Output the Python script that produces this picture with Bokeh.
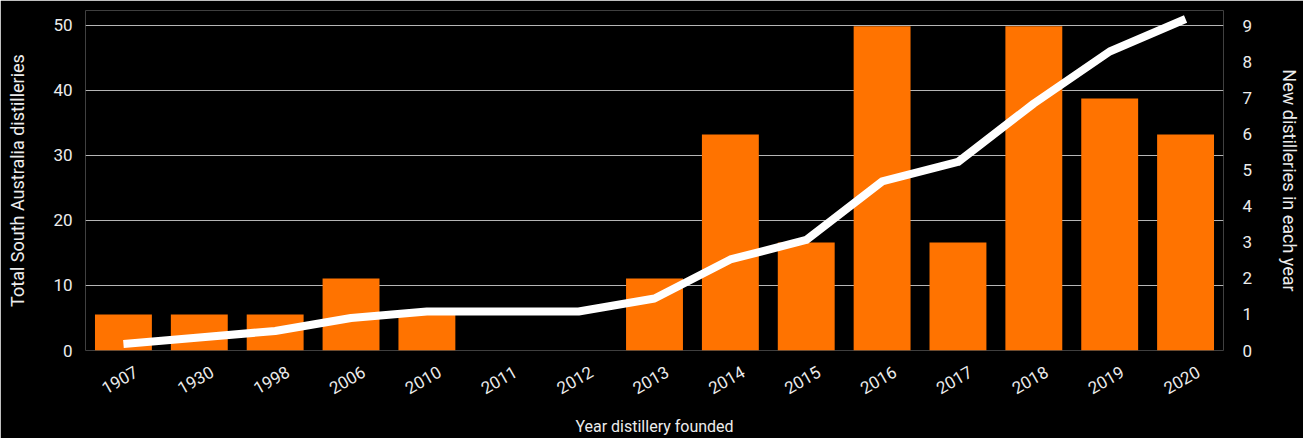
from bokeh.plotting import figure
from bokeh.models import Range1d, LinearAxis, FixedTicker, ColumnDataSource
from bokeh.embed import file_html
from bokeh.resources import INLINE

years = ["1907", "1930", "1998", "2006", "2010", "2011", "2012", "2013",
         "2014", "2015", "2016", "2017", "2018", "2019", "2020"]
new_per_year = [1, 1, 1, 2, 1, 0, 0, 2, 6, 3, 9, 3, 9, 7, 6]
total = [1, 2, 3, 5, 6, 6, 6, 8, 14, 17, 26, 29, 38, 46, 51]
left_ticks = [0, 10, 20, 30, 40, 50]
right_ticks = [0, 1, 2, 3, 4, 5, 6, 7, 8, 9]

FONT = "Roboto"
TXT = "#ececec"
left_end = 52.3
right_end = 9.44
shift = 0.17  # label nudge so rotated labels sit centred under bars

n = len(years)
idx = list(range(n))  # category slots
src = ColumnDataSource(dict(pos=idx, year=years, new=new_per_year, total=total))

p = figure(width=1303, height=438, x_range=Range1d(-0.5, n - 0.5),
           y_range=Range1d(0, left_end),
           output_backend="svg", toolbar_location=None,
           background_fill_color="black", border_fill_color="black",
           min_border_left=85, min_border_right=80, min_border_top=10,
           min_border_bottom=87)
p.outline_line_color = None
p.extra_y_ranges = {"new": Range1d(0, right_end)}
p.extra_x_ranges = {"lab": Range1d(-0.5 - shift, n - 0.5 - shift)}

p.vbar(x="pos", top="new", width=0.75, source=src, y_range_name="new",
       fill_color="#FF7300", line_color=None)
p.line(x="pos", y="total", source=src, line_color="white", line_width=8,
       line_join="round")

p.xaxis.visible = False
xa = LinearAxis(x_range_name="lab", ticker=FixedTicker(ticks=idx),
                major_label_overrides={i: y for i, y in zip(idx, years)},
                axis_label="Year distillery founded")
p.add_layout(xa, "below")

p.yaxis.ticker = FixedTicker(ticks=left_ticks)
ra = LinearAxis(y_range_name="new", ticker=FixedTicker(ticks=right_ticks),
                axis_label="New distilleries in each year")
p.add_layout(ra, "right")
p.yaxis[0].axis_label = "Total South Australia distilleries"

for ax in [xa, p.yaxis[0], ra]:
    ax.axis_line_color = None
    ax.major_tick_line_color = None
    ax.minor_tick_line_color = None
    ax.major_label_text_color = TXT
    ax.major_label_text_font = FONT
    ax.major_label_text_font_size = "17px"
    ax.axis_label_text_color = TXT
    ax.axis_label_text_font = FONT
    ax.axis_label_text_font_size = "18px"
    ax.axis_label_text_font_style = "normal"

p.yaxis[0].major_label_standoff = 7
p.yaxis[0].axis_label_standoff = 22
ra.major_label_standoff = 13
ra.axis_label_standoff = 24
xa.major_label_orientation = 0.52
xa.major_label_standoff = 14
xa.axis_label_standoff = 14
xa.axis_label_text_font_size = "16px"

p.xgrid.grid_line_color = None
p.ygrid.grid_line_color = "#b5b5b5"
p.ygrid.grid_line_width = 1

open("out.html", "w").write(file_html(p, INLINE))
